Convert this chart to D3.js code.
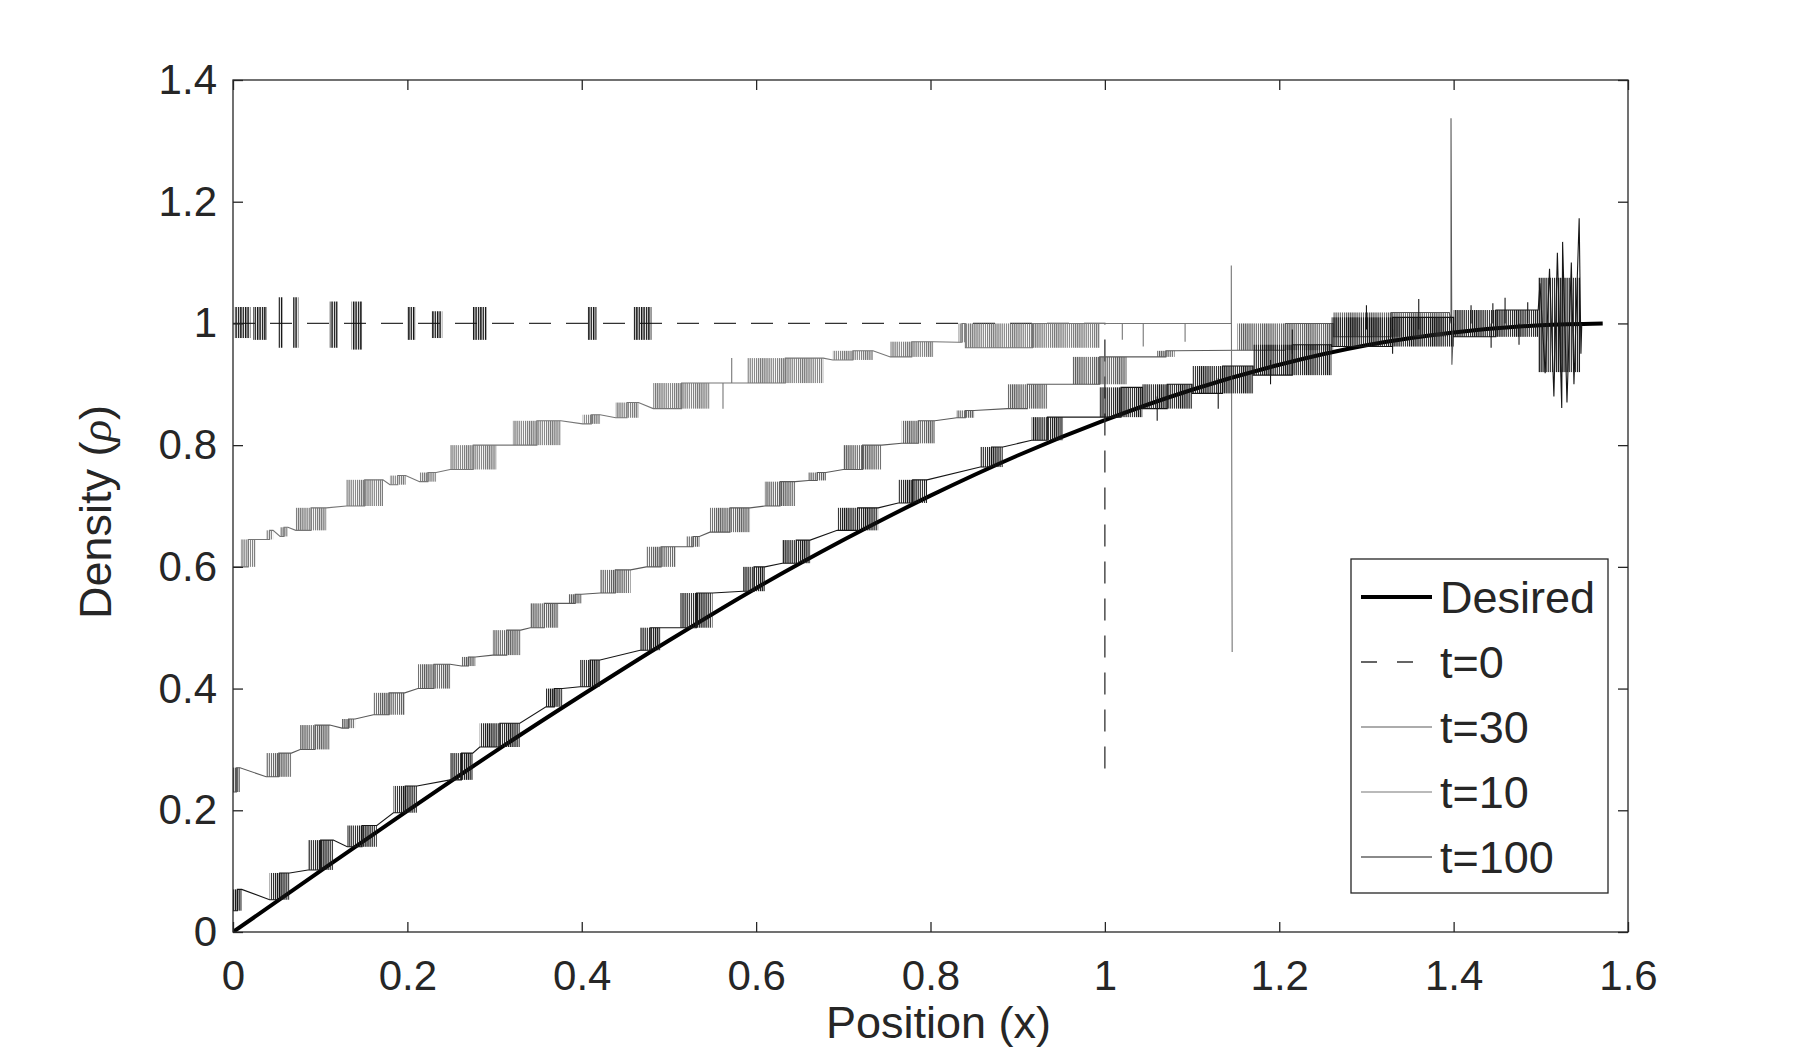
<!DOCTYPE html>
<html>
<head>
<meta charset="utf-8">
<script src="https://cdn.jsdelivr.net/npm/d3@7"></script>
<style>
body { margin: 0; background: #fff; }
text { font-family: "Liberation Sans", Arial, sans-serif; fill: #262626; }
</style>
</head>
<body>
<script>
// tick values
var xTicks = [0, 0.2, 0.4, 0.6, 0.8, 1, 1.2, 1.4, 1.6];
var yTicks = [0, 0.2, 0.4, 0.6, 0.8, 1, 1.2, 1.4];

// desired density
var desiredX = [0, 0.1, 0.2, 0.3, 0.4, 0.5, 0.6, 0.7, 0.8, 0.9, 1.0, 1.1, 1.2, 1.3, 1.4, 1.5, 1.571];
var desiredY = [0, 0.100, 0.199, 0.296, 0.389, 0.479, 0.565, 0.644, 0.717, 0.783, 0.841, 0.891, 0.932, 0.964, 0.985, 0.997, 1.0];

// t=0 : flat line, drop at x=1, and bursts of spikes [x0, x1, lo, hi]
var t0Line = [[0, 1], [1.0, 1], [1.0, 0.258]];
var t0Bursts = [
    [0.002, 0.020, 0.976, 1.027], [0.023, 0.039, 0.973, 1.027], [0.052, 0.057, 0.960, 1.043],
    [0.069, 0.075, 0.960, 1.043], [0.111, 0.120, 0.960, 1.036], [0.136, 0.148, 0.957, 1.036],
    [0.200, 0.209, 0.973, 1.027], [0.228, 0.240, 0.976, 1.020], [0.275, 0.291, 0.973, 1.027],
    [0.407, 0.417, 0.973, 1.027], [0.459, 0.480, 0.973, 1.027]
];

// noisy series: steps are spike clusters [x0, x1, lo, hi]
var t10Head = [[0, 0.600]];
var t10Steps = [
    [0.009, 0.026, 0.600, 0.645], [0.038, 0.046, 0.645, 0.660], [0.054, 0.063, 0.650, 0.665],
    [0.072, 0.107, 0.660, 0.697], [0.130, 0.172, 0.700, 0.743], [0.180, 0.198, 0.735, 0.750],
    [0.214, 0.233, 0.740, 0.755], [0.249, 0.302, 0.760, 0.800], [0.321, 0.376, 0.800, 0.840],
    [0.401, 0.421, 0.835, 0.850], [0.439, 0.465, 0.845, 0.870], [0.482, 0.547, 0.860, 0.902],
    [0.590, 0.677, 0.902, 0.943], [0.688, 0.734, 0.940, 0.955], [0.754, 0.803, 0.945, 0.970],
    [0.832, 0.840, 0.969, 1.000], [0.840, 0.994, 0.960, 1.000]
];
var t10Tail = [[1.145, 1.0], [1.145, 1.095], [1.146, 0.46]];
var t10Spikes = [[0.562, 0.902, 0.860], [0.572, 0.902, 0.943], [1.020, 1.0, 0.973], [1.044, 1.0, 0.962], [1.092, 1.0, 0.970]];

var t30Head = [[0, 0.270]];
var t30Steps = [
    [0.000, 0.008, 0.230, 0.270], [0.038, 0.067, 0.255, 0.294], [0.077, 0.111, 0.300, 0.340],
    [0.125, 0.140, 0.335, 0.350], [0.161, 0.197, 0.357, 0.393], [0.212, 0.249, 0.400, 0.440],
    [0.262, 0.278, 0.437, 0.452], [0.298, 0.330, 0.455, 0.496], [0.341, 0.373, 0.500, 0.540],
    [0.385, 0.400, 0.540, 0.555], [0.421, 0.456, 0.557, 0.595], [0.474, 0.508, 0.600, 0.633],
    [0.520, 0.535, 0.633, 0.650], [0.547, 0.593, 0.657, 0.697], [0.610, 0.645, 0.700, 0.740],
    [0.660, 0.680, 0.742, 0.755], [0.700, 0.744, 0.760, 0.800], [0.767, 0.805, 0.803, 0.840],
    [0.830, 0.850, 0.845, 0.857], [0.888, 0.934, 0.860, 0.900], [0.963, 1.025, 0.900, 0.945],
    [1.060, 1.080, 0.945, 0.955], [1.152, 1.262, 0.956, 1.000], [1.262, 1.395, 0.978, 1.018]
];
var t30Tail = [[1.397, 1.0], [1.397, 1.337], [1.398, 0.932], [1.400, 1.0]];
var t30Spikes = [];

var t100Head = [[0, 0.064]];
var t100Steps = [
    [0.000, 0.010, 0.035, 0.070], [0.042, 0.065, 0.053, 0.097], [0.086, 0.115, 0.102, 0.151],
    [0.131, 0.165, 0.140, 0.175], [0.184, 0.211, 0.196, 0.240], [0.249, 0.275, 0.250, 0.294],
    [0.283, 0.329, 0.304, 0.343], [0.359, 0.378, 0.370, 0.400], [0.398, 0.421, 0.403, 0.447],
    [0.467, 0.490, 0.463, 0.500], [0.513, 0.550, 0.500, 0.557], [0.585, 0.610, 0.560, 0.600],
    [0.630, 0.662, 0.606, 0.644], [0.693, 0.740, 0.660, 0.697], [0.763, 0.796, 0.705, 0.743],
    [0.857, 0.883, 0.764, 0.797], [0.916, 0.952, 0.808, 0.846], [0.994, 1.043, 0.846, 0.895],
    [1.043, 1.100, 0.860, 0.900], [1.100, 1.170, 0.885, 0.930], [1.170, 1.260, 0.915, 0.965],
    [1.260, 1.400, 0.962, 1.010], [1.400, 1.497, 0.978, 1.022]
];
var t100Tail = [
    [1.499, 1.066], [1.505, 0.918], [1.510, 1.090], [1.515, 0.880], [1.519, 1.116], [1.524, 0.861],
    [1.525, 1.134], [1.530, 0.870], [1.535, 1.100], [1.538, 0.900], [1.544, 1.173], [1.546, 0.950], [1.547, 1.0]
];
var t100Spikes = [
    [1.060, 0.880, 0.840], [1.130, 0.910, 0.860], [1.190, 0.940, 0.900], [1.215, 0.950, 0.990],
    [1.300, 0.990, 1.030], [1.330, 0.990, 0.950], [1.360, 0.990, 1.040], [1.420, 1.000, 1.030],
    [1.443, 1.000, 0.960], [1.445, 1.000, 1.033], [1.459, 1.000, 1.042], [1.475, 1.000, 0.965], [1.485, 1.000, 1.035]
];
var t100Bursts = [[1.497, 1.545, 0.920, 1.075]];

var legendLabels = ['Desired', 't=0', 't=30', 't=10', 't=100'];

var W = 1800, H = 1050,
    mLeft = 233, mTop = 80, width = 1395, height = 852,
    ink = '#262626';

var x = d3.scaleLinear().domain([0, 1.6]).range([0, width]),
    y = d3.scaleLinear().domain([0, 1.4]).range([height, 0]);

var svg = d3.select('body').append('svg').attr('width', W).attr('height', H),
    defs = svg.append('defs'),
    chart = svg.append('g').attr('transform', 'translate(' + mLeft + ',' + mTop + ')');

defs.append('clipPath').attr('id', 'plot').append('rect')
    .attr('width', width).attr('height', height);

function hatch(id, color, step, lw) {
    defs.append('pattern')
        .attr('id', id)
        .attr('patternUnits', 'userSpaceOnUse')
        .attr('width', step).attr('height', 20)
        .append('line')
        .attr('x1', lw / 2).attr('x2', lw / 2)
        .attr('y1', 0).attr('y2', 20)
        .style('stroke', color)
        .style('stroke-width', lw);
    return 'url(#' + id + ')';
}

// staircase: low level into the cluster, jump half way, high level out of it
function stepPoints(head, steps, tail) {
    var pts = head.slice();
    steps.forEach(function(s) {
        var xm = (s[0] + s[1]) / 2;
        pts.push([s[0], s[2]], [xm, s[2]], [xm, s[3]], [s[1], s[3]]);
    });
    return pts.concat(tail);
}

var series = [
    { label: 't=30', color: '#5a5a5a', pts: stepPoints(t30Head, t30Steps, t30Tail), bursts: t30Steps, spikes: t30Spikes },
    { label: 't=10', color: '#767676', pts: stepPoints(t10Head, t10Steps, t10Tail), bursts: t10Steps, spikes: t10Spikes },
    { label: 't=100', color: '#161616', pts: stepPoints(t100Head, t100Steps, t100Tail), bursts: t100Steps.concat(t100Bursts), spikes: t100Spikes }
];

var line = d3.line()
    .x(function(d) { return x(d[0]); })
    .y(function(d) { return y(d[1]); });

var plot = chart.append('g').attr('clip-path', 'url(#plot)');

// desired
plot.append('path')
    .datum(d3.zip(desiredX, desiredY))
    .attr('d', line.curve(d3.curveMonotoneX))
    .style('fill', 'none')
    .style('stroke', '#000')
    .style('stroke-width', 4);
line.curve(d3.curveLinear);

// t=0
plot.append('path')
    .datum(t0Line)
    .attr('d', line)
    .style('fill', 'none')
    .style('stroke', '#333')
    .style('stroke-width', 1.3)
    .style('stroke-dasharray', '22,15');

var t0Fill = hatch('h-t0', '#111', 2.4, 1.4);
plot.append('g').selectAll('rect')
    .data(t0Bursts)
    .enter().append('rect')
    .attr('x', function(d) { return x(d[0]); })
    .attr('width', function(d) { return Math.max(x(d[1]) - x(d[0]), 2); })
    .attr('y', function(d) { return y(d[3]); })
    .attr('height', function(d) { return y(d[2]) - y(d[3]); })
    .style('fill', t0Fill);

series.forEach(function(s, i) {
    var g = plot.append('g'),
        fill = hatch('h-' + i, s.color, 2.1, 1.2);

    g.selectAll('rect')
        .data(s.bursts)
        .enter().append('rect')
        .attr('x', function(d) { return x(d[0]); })
        .attr('width', function(d) { return x(d[1]) - x(d[0]); })
        .attr('y', function(d) { return y(d[3]); })
        .attr('height', function(d) { return y(d[2]) - y(d[3]); })
        .style('fill', fill);

    g.append('path')
        .datum(s.pts)
        .attr('d', line)
        .style('fill', 'none')
        .style('stroke', s.color)
        .style('stroke-width', 1.1);

    g.selectAll('line')
        .data(s.spikes)
        .enter().append('line')
        .attr('x1', function(d) { return x(d[0]); })
        .attr('x2', function(d) { return x(d[0]); })
        .attr('y1', function(d) { return y(d[1]); })
        .attr('y2', function(d) { return y(d[2]); })
        .style('stroke', s.color)
        .style('stroke-width', 1.1);
});

// axes, ticks inward on all four sides
var fmt = d3.format('~g');
chart.append('g').attr('transform', 'translate(0,' + height + ')')
    .call(d3.axisBottom(x).tickValues(xTicks).tickSize(-10).tickPadding(28).tickFormat(fmt));
chart.append('g')
    .call(d3.axisTop(x).tickValues(xTicks).tickSize(-10).tickFormat(''));
chart.append('g')
    .call(d3.axisLeft(y).tickValues(yTicks).tickSize(-10).tickPadding(16).tickFormat(fmt));
chart.append('g').attr('transform', 'translate(' + width + ',0)')
    .call(d3.axisRight(y).tickValues(yTicks).tickSize(-10).tickFormat(''));

chart.selectAll('.domain').remove();
chart.selectAll('.tick line').style('stroke', ink).style('stroke-width', 1.3);
chart.selectAll('.tick text').style('font-size', '42px').style('fill', ink)
    .style('font-family', '"Liberation Sans", Arial, sans-serif');

chart.append('rect')
    .attr('width', width).attr('height', height)
    .style('fill', 'none').style('stroke', ink).style('stroke-width', 1.3);

// axis labels
chart.append('text')
    .attr('x', width / 2 + 8).attr('y', height + 106)
    .style('text-anchor', 'middle').style('font-size', '45px')
    .text('Position (x)');

var yl = chart.append('text')
    .attr('transform', 'translate(' + (-122) + ',' + (height / 2 + 6) + ') rotate(-90)')
    .style('text-anchor', 'middle').style('font-size', '45px');
yl.append('tspan').text('Density (');
yl.append('tspan').text('ρ').style('font-style', 'italic').style('font-family', '"Liberation Serif", serif');
yl.append('tspan').text(')');

// legend
var lg = svg.append('g').attr('transform', 'translate(1351,559)');
lg.append('rect')
    .attr('width', 257).attr('height', 334)
    .style('fill', '#fff').style('stroke', ink).style('stroke-width', 1.3);

var legendStyle = [
    { color: '#000', w: 4, dash: null },
    { color: '#333', w: 1.3, dash: '16,20' },
    { color: '#5a5a5a', w: 1.1, dash: null },
    { color: '#767676', w: 1.1, dash: null },
    { color: '#161616', w: 1.1, dash: null }
];

var rows = lg.selectAll('g.row')
    .data(legendLabels)
    .enter().append('g')
    .attr('class', 'row')
    .attr('transform', function(d, i) { return 'translate(0,' + (38 + i * 65) + ')'; });

rows.append('line')
    .attr('x1', 10).attr('x2', 81).attr('y1', 0).attr('y2', 0)
    .style('stroke', function(d, i) { return legendStyle[i].color; })
    .style('stroke-width', function(d, i) { return legendStyle[i].w; })
    .style('stroke-dasharray', function(d, i) { return legendStyle[i].dash; });

rows.append('text')
    .attr('x', 89).attr('y', 16)
    .style('font-size', '45px')
    .text(function(d) { return d; });
</script>
</body>
</html>
